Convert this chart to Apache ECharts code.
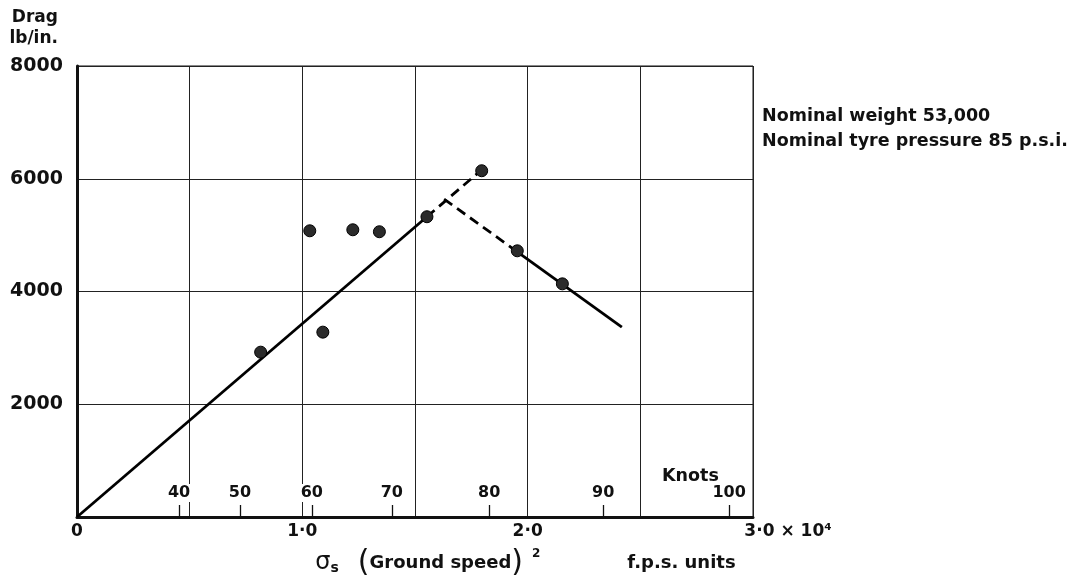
<!DOCTYPE html>
<html>
<head>
<meta charset="utf-8">
<script src="https://cdn.jsdelivr.net/npm/echarts@6/dist/echarts.min.js"></script>
<style>
  html, body { margin: 0; padding: 0; background: #fff; }
  #chart { width: 1090px; height: 582px; }
</style>
</head>
<body>
<div id="chart"></div>
<script>
// measured points: sigma_s * V^2 (x 10^4 f.p.s. units) vs drag (lb/in.)
var groundSpeedSq = [0.815, 1.033, 1.091, 1.224, 1.342, 1.553, 1.796, 1.954, 2.154];
var drag = [2924, 5077, 3279, 5095, 5060, 5326, 6142, 4722, 4136];

// faired lines drawn through the points
var riseSolid = [[0, 0], [1.553, 5326]];
var riseDashed = [[1.553, 5326], [1.796, 6159]];
var fallDashed = [[1.629, 5640], [1.954, 4704]];
var fallSolid = [[1.954, 4704], [2.418, 3368]];

// knots scale placed along the bottom axis
var knotLabels = ["40", "50", "60", "70", "80", "90", "100"];
var knotPositions = [0.453, 0.723, 1.042, 1.397, 1.829, 2.335, 2.894];

var xTickLabels = { 0: "0", 1: "1·0", 2: "2·0", 3: "3" };

var ink = "#111";
var font = "DejaVu Sans";

var points = groundSpeedSq.map(function (x, i) { return [x, drag[i]]; });

var chart = echarts.init(document.getElementById("chart"));

chart.setOption({
  animation: false,
  backgroundColor: "#fff",
  textStyle: { fontFamily: font, color: ink },
  grid: {
    left: 77, right: 337, top: 66, bottom: 65,
    outerBoundsMode: "none",
    show: true, borderColor: ink, borderWidth: 1
  },
  xAxis: [
    {
      type: "value", min: 0, max: 3, interval: 0.5,
      axisLine: { show: true, lineStyle: { color: ink, width: 3 } },
      axisTick: { show: false },
      splitLine: { show: true, lineStyle: { color: "#222", width: 1 } },
      axisLabel: {
        margin: 6, fontSize: 17, fontWeight: "bold", color: ink,
        formatter: function (v) {
          if (v === 3) return "{last|3·0 × 10⁴}";
          return xTickLabels[v] || "";
        },
        rich: {
          last: { fontSize: 17, fontWeight: "bold", padding: [0, 0, 0, 70], fontFamily: font, color: ink }
        }
      },
      name: "{sig|σ}{sub|s}{gap1|}{par|(}{txt|Ground speed}{par|)}{sup|2}{gap|}{txt|f.p.s. units}",
      nameLocation: "middle",
      nameGap: 31,
      nameTextStyle: {
        padding: [0, 0, 0, 221],
        rich: {
          sig: { fontSize: 24, fontFamily: font, color: ink },
          sub: { fontSize: 14, fontWeight: "bold", fontFamily: font, color: ink, padding: [10, 0, 0, 0] },
          gap1: { width: 19 },
          par: { fontSize: 30, fontFamily: font, color: ink },
          txt: { fontSize: 18, fontWeight: "bold", fontFamily: font, color: ink },
          sup: { fontSize: 12, fontWeight: "bold", fontFamily: font, color: ink, padding: [0, 0, 18, 9] },
          gap: { width: 87 }
        }
      }
    },
    {
      type: "value", min: 0, max: 3, position: "bottom",
      axisLine: { show: false },
      splitLine: { show: false },
      axisTick: {
        show: true, inside: true, length: 12,
        customValues: knotPositions,
        lineStyle: { color: ink, width: 1.3 }
      },
      axisLabel: {
        show: true, inside: true, margin: 15,
        customValues: knotPositions,
        fontSize: 16, fontWeight: "bold", color: ink,
        backgroundColor: "#fff", padding: [1, 2, 1, 2],
        formatter: function (v) {
          var i = knotPositions.indexOf(v);
          return i >= 0 ? knotLabels[i] : "";
        }
      }
    }
  ],
  yAxis: {
    type: "value", min: 0, max: 8000, interval: 2000,
    axisLine: { show: true, lineStyle: { color: ink, width: 3 } },
    axisTick: { show: false },
    splitLine: { show: true, lineStyle: { color: "#222", width: 1 } },
    axisLabel: {
      margin: 14, fontSize: 19, fontWeight: "bold", color: ink,
      formatter: function (v) { return v === 0 ? "" : String(v); }
    },
    name: "Drag\nlb/in.",
    nameLocation: "end",
    nameGap: 17,
    nameTextStyle: {
      align: "right", fontSize: 17, fontWeight: "bold", color: ink,
      lineHeight: 21, padding: [0, 19, 0, 0]
    }
  },
  graphic: [
    {
      type: "text", left: 662, top: 467,
      style: { text: "Knots", font: "bold 17.5px " + font, fill: ink }
    },
    {
      type: "text", left: 762, top: 107,
      style: { text: "Nominal weight 53,000", font: "bold 17.5px " + font, fill: ink }
    },
    {
      type: "text", left: 762, top: 132,
      style: { text: "Nominal tyre pressure 85 p.s.i.", font: "bold 17.5px " + font, fill: ink }
    }
  ],
  series: [
    {
      type: "line", data: riseSolid, symbol: "none", z: 2,
      lineStyle: { color: "#000", width: 2.8 }
    },
    {
      type: "line", data: riseDashed, symbol: "none", z: 2,
      lineStyle: { color: "#000", width: 2.8, type: [10, 6] }
    },
    {
      type: "line", data: fallDashed, symbol: "none", z: 2,
      lineStyle: { color: "#000", width: 2.8, type: [10, 6] }
    },
    {
      type: "line", data: fallSolid, symbol: "none", z: 2,
      lineStyle: { color: "#000", width: 2.8 }
    },
    {
      type: "scatter", data: points, symbol: "circle", symbolSize: 12, z: 3,
      itemStyle: { color: "#2b2b2b", borderColor: "#000", borderWidth: 1, opacity: 1 }
    }
  ]
});
</script>
</body>
</html>
